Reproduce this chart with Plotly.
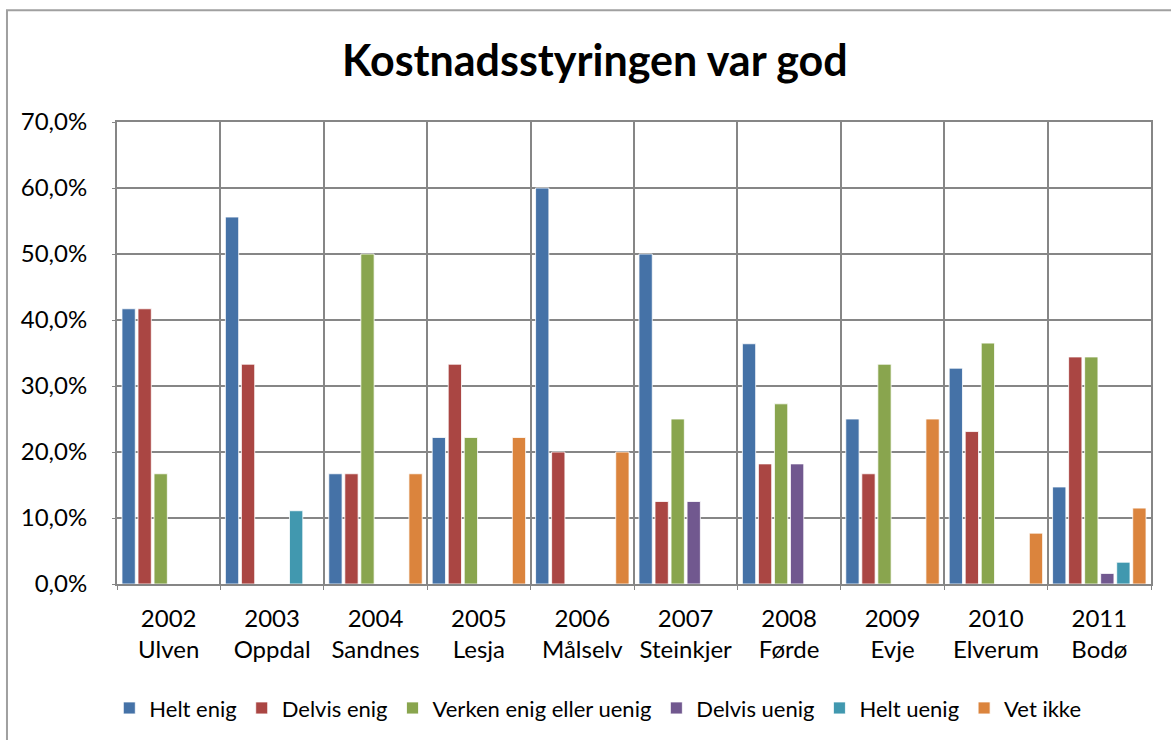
import plotly.graph_objects as go

CATEGORIES = ["2002<br>Ulven", "2003<br>Oppdal", "2004<br>Sandnes", "2005<br>Lesja", "2006<br>Målselv",
              "2007<br>Steinkjer", "2008<br>Førde", "2009<br>Evje", "2010<br>Elverum", "2011<br>Bodø"]

HELT_ENIG = [41.7, 55.6, 16.7, 22.2, 60.0, 50.0, 36.4, 25.0, 32.7, 14.7]
DELVIS_ENIG = [41.7, 33.3, 16.7, 33.3, 20.0, 12.5, 18.2, 16.7, 23.1, 34.4]
VERKEN = [16.7, 0, 50.0, 22.2, 0, 25.0, 27.3, 33.3, 36.5, 34.4]
DELVIS_UENIG = [0, 0, 0, 0, 0, 12.5, 18.2, 0, 0, 1.6]
HELT_UENIG = [0, 11.1, 0, 0, 0, 0, 0, 0, 0, 3.3]
VET_IKKE = [0, 0, 16.7, 22.2, 20.0, 0, 0, 25.0, 7.7, 11.5]

SERIES = [
    ("Helt enig", HELT_ENIG, "#4572A7"),
    ("Delvis enig", DELVIS_ENIG, "#AA4643"),
    ("Verken enig eller uenig", VERKEN, "#89A54E"),
    ("Delvis uenig", DELVIS_UENIG, "#71588F"),
    ("Helt uenig", HELT_UENIG, "#4198AF"),
    ("Vet ikke", VET_IKKE, "#DB843D"),
]

FONT = "Lato"
GRID = "#868686"

fig = go.Figure()
for name, vals, color in SERIES:
    fig.add_trace(go.Bar(
        x=CATEGORIES, y=vals, name=name,
        marker=dict(color=color, line=dict(color="white", width=0.8)),
    ))

fig.update_layout(
    width=1171, height=740,
    margin=dict(l=117, r=20, t=122, b=155),
    paper_bgcolor="white", plot_bgcolor="white",
    separators=", ",
    font=dict(family=FONT, size=24, color="black"),
    title=dict(text="<b>Kostnadsstyringen var god</b>", x=0.508, xanchor="center",
               y=0.918, yanchor="middle", font=dict(size=43, family=FONT, color="black")),
    barmode="group", bargap=0.07, bargroupgap=0.17,
    legend=dict(orientation="h", x=0.465, xanchor="center", y=-0.266, yanchor="middle",
                font=dict(size=22), itemwidth=30, traceorder="normal"),
    shapes=[dict(type="rect", xref="paper", yref="paper",
                 x0=-0.1064, x1=1.2, y0=-0.6, y1=1.2419,
                 line=dict(color="#A0A0A0", width=2))],
)

fig.update_xaxes(
    type="category", tickson="boundaries", showgrid=True, gridcolor=GRID, gridwidth=2,
    showline=True, linecolor=GRID, linewidth=2, mirror=True,
    ticks="outside", ticklen=4, tickcolor=GRID, tickfont=dict(size=24),
    ticklabelstandoff=12,
)
fig.update_yaxes(
    range=[0, 70], dtick=10, tickformat=".1f", ticksuffix="%",
    showgrid=True, gridcolor=GRID, gridwidth=2,
    showline=True, linecolor=GRID, linewidth=2, mirror=True,
    ticks="outside", ticklen=3, tickcolor=GRID, tickfont=dict(size=24), zeroline=False,
    ticklabelstandoff=20,
)

fig.write_html("out.html", config={"displayModeBar": False},
               post_script="document.body.style.margin='0';")
